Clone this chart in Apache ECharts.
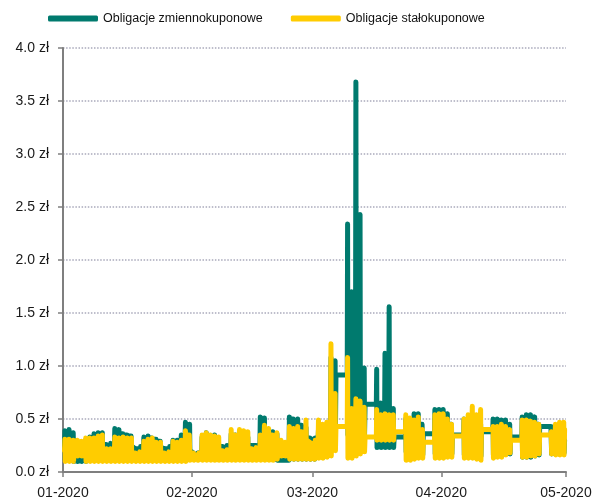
<!DOCTYPE html>
<html>
<head>
<meta charset="utf-8">
<script src="https://cdn.jsdelivr.net/npm/echarts@6/dist/echarts.min.js"></script>
<style>
html,body{margin:0;padding:0;background:#fff;}
#chart{width:597px;height:501px;}
</style>
</head>
<body>
<div id="chart"></div>
<script>
// observation days (Jan–Feb every calendar day, Mar–Apr weekdays)
const obsDays = [
 '2020-01-01','2020-01-02','2020-01-03','2020-01-04','2020-01-05','2020-01-06','2020-01-07','2020-01-08',
 '2020-01-09','2020-01-10','2020-01-11','2020-01-12','2020-01-13','2020-01-14','2020-01-15','2020-01-16',
 '2020-01-17','2020-01-18','2020-01-19','2020-01-20','2020-01-21','2020-01-22','2020-01-23','2020-01-24',
 '2020-01-25','2020-01-26','2020-01-27','2020-01-28','2020-01-29','2020-01-30','2020-01-31',
 '2020-02-01','2020-02-02','2020-02-03','2020-02-04','2020-02-05','2020-02-06','2020-02-07','2020-02-08',
 '2020-02-09','2020-02-10','2020-02-11','2020-02-12','2020-02-13','2020-02-14','2020-02-15','2020-02-16',
 '2020-02-17','2020-02-18','2020-02-19','2020-02-20','2020-02-21','2020-02-22','2020-02-23','2020-02-24',
 '2020-02-25','2020-02-26','2020-02-27','2020-02-28','2020-02-29','2020-03-01',
 '2020-03-02','2020-03-03','2020-03-04','2020-03-05','2020-03-06','2020-03-09','2020-03-10','2020-03-11',
 '2020-03-12','2020-03-13','2020-03-16','2020-03-17','2020-03-18','2020-03-19','2020-03-20','2020-03-23',
 '2020-03-24','2020-03-25','2020-03-26','2020-03-27','2020-03-30','2020-03-31',
 '2020-04-01','2020-04-02','2020-04-03','2020-04-06','2020-04-07','2020-04-08','2020-04-09','2020-04-10',
 '2020-04-13','2020-04-14','2020-04-15','2020-04-16','2020-04-17','2020-04-20','2020-04-21','2020-04-22',
 '2020-04-23','2020-04-24','2020-04-27','2020-04-28','2020-04-29','2020-04-30'
];
// intraday observation times
const sessionTimes = ['09:00','11:00','13:00','16:00'];

// Obligacje zmiennokuponowe: per day [first, high, low, last]
const floatingDaily = [
 [0.25,0.39,0.11,0.30],[0.30,0.40,0.11,0.34],[0.34,0.37,0.10,0.11],[0.11,0.13,0.10,0.11],[0.11,0.13,0.10,0.12],
 [0.12,0.30,0.10,0.28],[0.28,0.33,0.11,0.30],[0.30,0.36,0.11,0.33],[0.33,0.37,0.11,0.35],[0.35,0.37,0.11,0.26],
 [0.26,0.27,0.11,0.25],[0.25,0.27,0.11,0.26],[0.26,0.41,0.11,0.38],[0.38,0.40,0.11,0.36],[0.36,0.37,0.11,0.35],
 [0.35,0.36,0.11,0.34],[0.34,0.35,0.11,0.24],[0.22,0.23,0.11,0.22],[0.22,0.23,0.11,0.24],[0.24,0.33,0.11,0.31],
 [0.31,0.34,0.11,0.32],[0.32,0.33,0.11,0.31],[0.31,0.32,0.11,0.29],[0.29,0.30,0.11,0.23],[0.22,0.23,0.11,0.22],
 [0.22,0.23,0.11,0.24],[0.24,0.30,0.11,0.28],[0.28,0.30,0.11,0.29],[0.29,0.35,0.11,0.33],[0.33,0.47,0.11,0.42],
 [0.42,0.45,0.12,0.20],
 [0.18,0.19,0.12,0.16],[0.16,0.18,0.12,0.18],[0.18,0.33,0.12,0.30],[0.30,0.37,0.12,0.34],[0.34,0.35,0.12,0.33],
 [0.33,0.35,0.12,0.32],[0.32,0.33,0.12,0.24],[0.24,0.25,0.12,0.23],[0.23,0.25,0.12,0.24],[0.24,0.36,0.12,0.33],
 [0.33,0.35,0.12,0.33],[0.33,0.38,0.12,0.32],[0.32,0.33,0.12,0.30],[0.30,0.33,0.12,0.25],[0.25,0.26,0.12,0.25],
 [0.25,0.26,0.12,0.25],[0.25,0.52,0.12,0.48],[0.48,0.51,0.12,0.40],[0.40,0.41,0.12,0.36],[0.36,0.38,0.12,0.34],
 [0.34,0.36,0.11,0.11],[0.11,0.12,0.10,0.11],[0.11,0.12,0.10,0.11],[0.11,0.52,0.12,0.50],[0.50,0.51,0.12,0.48],
 [0.48,0.50,0.12,0.44],[0.44,0.45,0.12,0.40],[0.40,0.42,0.12,0.32],[0.32,0.32,0.12,0.31],[0.31,0.32,0.12,0.32],
 [0.32,0.40,0.14,0.36],[0.36,0.38,0.14,0.35],[0.35,0.45,0.15,0.42],[0.42,1.08,0.20,0.95],[0.95,1.05,0.40,0.915],
 [0.915,2.34,0.35,1.40],[1.40,1.70,0.30,1.20],[1.20,3.68,0.35,1.50],[1.50,2.43,0.40,0.90],[0.90,0.98,0.35,0.64],
 [0.64,0.97,0.23,0.40],[0.40,0.65,0.23,0.60],[0.60,1.12,0.23,0.70],[0.70,1.56,0.23,0.50],[0.50,0.60,0.23,0.33],
 [0.33,0.50,0.19,0.45],[0.45,0.50,0.17,0.45],[0.45,0.55,0.17,0.50],[0.50,0.55,0.17,0.45],[0.45,0.45,0.16,0.36],
 [0.36,0.59,0.17,0.55],[0.55,0.59,0.17,0.55],
 [0.55,0.59,0.17,0.52],[0.52,0.55,0.17,0.45],[0.45,0.46,0.17,0.35],[0.35,0.50,0.16,0.45],[0.45,0.50,0.16,0.45],
 [0.45,0.52,0.16,0.48],[0.48,0.50,0.16,0.40],[0.40,0.45,0.15,0.38],[0.38,0.50,0.16,0.45],[0.45,0.50,0.17,0.45],
 [0.45,0.49,0.17,0.45],[0.45,0.49,0.17,0.42],[0.42,0.45,0.17,0.33],[0.33,0.52,0.14,0.48],[0.48,0.54,0.14,0.50],
 [0.50,0.54,0.14,0.48],[0.48,0.52,0.15,0.45],[0.45,0.45,0.16,0.43],[0.43,0.43,0.17,0.40],[0.40,0.43,0.17,0.40],
 [0.40,0.40,0.18,0.35],[0.35,0.38,0.18,0.30]
];

// Obligacje stałokuponowe: per day [first, high, low, last]
const fixedDaily = [
 [0.20,0.31,0.10,0.25],[0.25,0.31,0.10,0.28],[0.28,0.30,0.10,0.22],[0.22,0.30,0.15,0.20],[0.20,0.29,0.15,0.22],
 [0.22,0.32,0.10,0.25],[0.25,0.32,0.10,0.28],[0.28,0.32,0.10,0.30],[0.30,0.34,0.10,0.32],[0.32,0.35,0.10,0.20],
 [0.20,0.22,0.10,0.18],[0.18,0.22,0.10,0.20],[0.20,0.33,0.10,0.30],[0.30,0.32,0.10,0.30],[0.30,0.33,0.10,0.30],
 [0.30,0.32,0.10,0.30],[0.30,0.32,0.10,0.18],[0.18,0.19,0.10,0.17],[0.17,0.19,0.10,0.18],[0.18,0.29,0.10,0.28],
 [0.28,0.31,0.10,0.30],[0.30,0.32,0.10,0.28],[0.28,0.29,0.10,0.25],[0.25,0.28,0.10,0.18],[0.18,0.19,0.10,0.17],
 [0.17,0.19,0.10,0.18],[0.18,0.29,0.10,0.25],[0.25,0.28,0.10,0.25],[0.25,0.30,0.10,0.28],[0.28,0.39,0.10,0.35],
 [0.35,0.36,0.11,0.18],
 [0.18,0.18,0.11,0.16],[0.16,0.17,0.11,0.18],[0.18,0.35,0.11,0.30],[0.30,0.37,0.11,0.33],[0.33,0.35,0.11,0.32],
 [0.32,0.34,0.11,0.30],[0.30,0.33,0.11,0.20],[0.20,0.21,0.11,0.19],[0.19,0.21,0.11,0.20],[0.20,0.40,0.11,0.35],
 [0.35,0.36,0.11,0.32],[0.32,0.40,0.11,0.35],[0.35,0.39,0.11,0.33],[0.33,0.38,0.11,0.22],[0.22,0.23,0.11,0.21],
 [0.21,0.23,0.11,0.22],[0.22,0.35,0.11,0.33],[0.33,0.44,0.11,0.38],[0.38,0.41,0.11,0.35],[0.35,0.35,0.11,0.30],
 [0.30,0.37,0.12,0.25],[0.25,0.30,0.15,0.22],[0.22,0.28,0.15,0.25],[0.25,0.43,0.12,0.38],[0.38,0.41,0.12,0.36],
 [0.36,0.43,0.12,0.38],[0.38,0.38,0.12,0.33],[0.33,0.49,0.12,0.30],[0.28,0.29,0.12,0.27],[0.27,0.28,0.12,0.30],
 [0.30,0.49,0.13,0.40],[0.40,0.45,0.13,0.35],[0.35,0.47,0.14,0.40],[0.40,1.21,0.15,0.70],[0.70,0.74,0.20,0.43],
 [0.43,1.08,0.13,0.50],[0.50,0.60,0.13,0.45],[0.45,0.69,0.15,0.55],[0.55,0.67,0.17,0.50],[0.50,0.61,0.19,0.33],
 [0.33,0.59,0.30,0.45],[0.45,0.54,0.30,0.45],[0.45,0.55,0.30,0.45],[0.45,0.54,0.30,0.42],[0.42,0.54,0.30,0.38],
 [0.38,0.54,0.11,0.40],[0.40,0.51,0.11,0.40],[0.40,0.49,0.12,0.42],[0.42,0.52,0.13,0.35],[0.35,0.40,0.13,0.28],
 [0.28,0.54,0.13,0.45],[0.45,0.55,0.13,0.48],
 [0.48,0.55,0.13,0.45],[0.45,0.50,0.14,0.40],[0.40,0.45,0.14,0.34],[0.34,0.50,0.13,0.42],[0.42,0.54,0.13,0.45],
 [0.45,0.62,0.13,0.48],[0.48,0.54,0.12,0.45],[0.45,0.59,0.11,0.40],[0.40,0.43,0.13,0.38],[0.38,0.43,0.14,0.38],
 [0.38,0.45,0.14,0.40],[0.40,0.43,0.16,0.38],[0.38,0.40,0.18,0.30],[0.30,0.49,0.14,0.45],[0.45,0.49,0.14,0.45],
 [0.45,0.48,0.15,0.42],[0.42,0.47,0.15,0.40],[0.40,0.45,0.17,0.35],[0.35,0.38,0.17,0.33],[0.33,0.45,0.16,0.40],
 [0.40,0.47,0.16,0.42],[0.42,0.47,0.16,0.40]
];

const monthTicks = ['2020-01-01','2020-02-01','2020-03-01','2020-04-01','2020-05-01'];
const yTicks = [0,0.5,1,1.5,2,2.5,3,3.5,4];
const seriesNames = ['Obligacje zmiennokuponowe','Obligacje stałokuponowe'];

function toTs(d, t){ return new Date(d + 'T' + t + ':00').getTime(); }
function buildPoints(daily){
  const pts = [];
  obsDays.forEach((d, i) => {
    daily[i].forEach((v, j) => pts.push([toTs(d, sessionTimes[j]), v]));
  });
  return pts;
}
const monthTs = monthTicks.map(d => toTs(d, '00:00'));

const chart = echarts.init(document.getElementById('chart'), null, {renderer:'canvas'});
const FONT = 'Liberation Sans';
chart.setOption({
  animation: false,
  backgroundColor: '#ffffff',
  legend: {
    left: 43, top: 7,
    itemWidth: 50, itemHeight: 6, itemGap: 28,
    icon: 'roundRect',
    textStyle: {fontFamily: FONT, fontSize: 12.5, color: '#111111'},
    data: seriesNames
  },
  grid: {left: 63, right: 31, top: 48, bottom: 29, containLabel: false},
  xAxis: {
    type: 'value',
    min: monthTs[0], max: monthTs[monthTs.length-1],
    axisLine: {show: true, lineStyle: {color: '#7f7f7f', width: 2}},
    axisTick: {show: true, length: 5, lineStyle: {color: '#7f7f7f', width: 1.5}, customValues: monthTs},
    axisLabel: {
      customValues: monthTs,
      margin: 14,
      fontFamily: FONT, fontSize: 14, color: '#1a1a1a',
      formatter: function(v){
        const d = new Date(v);
        const m = d.getMonth() + 1;
        return (m < 10 ? '0' + m : '' + m) + '-' + d.getFullYear();
      }
    },
    splitLine: {show: false}
  },
  yAxis: {
    type: 'value',
    min: yTicks[0], max: yTicks[yTicks.length-1], interval: 0.5,
    axisLine: {show: true, lineStyle: {color: '#7f7f7f', width: 2}},
    axisTick: {show: true, length: 5, lineStyle: {color: '#7f7f7f', width: 1.5}},
    axisLabel: {
      margin: 14,
      fontFamily: FONT, fontSize: 14, color: '#1a1a1a',
      formatter: v => v.toFixed(1) + ' zł'
    },
    splitLine: {show: true, lineStyle: {color: '#a9a9bb', width: 1.5, type: [1.5, 1.6]}}
  },
  series: [
    {
      name: seriesNames[0], type: 'line', data: buildPoints(floatingDaily),
      showSymbol: false, symbol: 'none',
      color: '#007a6e',
      lineStyle: {width: 5, color: '#007a6e', cap: 'round', join: 'round'}
    },
    {
      name: seriesNames[1], type: 'line', data: buildPoints(fixedDaily),
      showSymbol: false, symbol: 'none',
      color: '#ffcc00',
      lineStyle: {width: 5, color: '#ffcc00', cap: 'round', join: 'round'}
    }
  ]
});
</script>
</body>
</html>
